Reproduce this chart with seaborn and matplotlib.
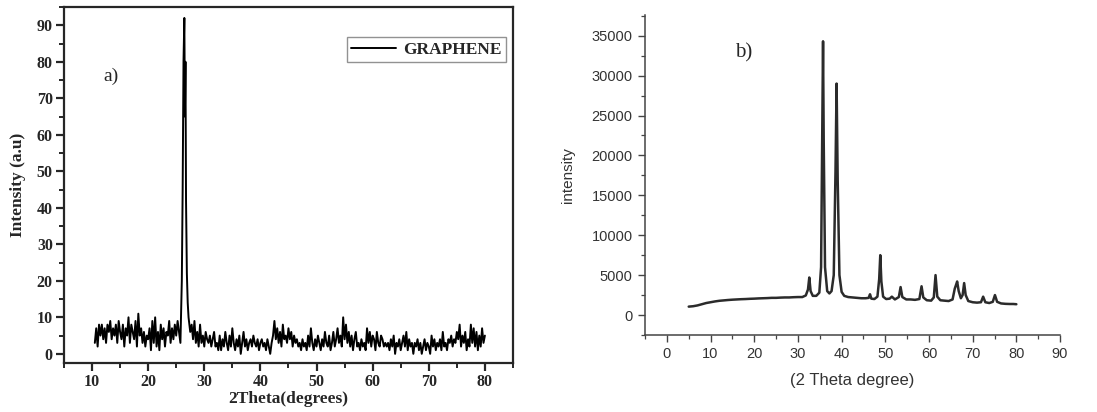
import numpy as np
import pandas as pd
import matplotlib
matplotlib.use('Agg')
import matplotlib.pyplot as plt
import seaborn as sns
from matplotlib.ticker import MultipleLocator

# a) graphene, noisy background on a 0.25 deg grid
bg_start = 10.5
bg_left = [3, 7, 2, 8, 5, 8, 4, 7, 3, 8,
           6, 9, 4, 7, 5, 8, 3, 9, 6, 4,
           8, 2, 7, 5, 10, 3, 8, 6, 4, 9,
           2, 11, 5, 7, 3, 6, 2, 5, 4, 7,
           1, 9, 3, 10, 2, 6, 1, 8, 4, 7,
           2, 6, 5, 9, 3, 7, 4, 8, 5, 9,
           6, 3]
peak_x = [26.0, 26.15, 26.3, 26.45, 26.55, 26.65, 26.75, 26.9, 27.05, 27.2, 27.35, 27.5]
peak_y = [20, 45, 80, 92, 65, 80, 42, 22, 14, 10, 8, 6]
bg_right_start = 27.75
bg_right = [8, 4, 9, 3, 6, 2, 8, 3, 5, 2, 6, 4, 3, 5, 2, 4, 6, 2, 3, 1,
            5, 1, 4, 2, 6, 3, 1, 5, 2, 7, 3, 1, 4, 2, 5, 0, 3, 6, 2, 4,
            1, 3, 4, 2, 5, 3, 2, 4, 1, 3, 4, 2, 3, 1, 4, 2, 0, 3, 5, 9,
            4, 7, 3, 6, 2, 8, 4, 5, 3, 7, 4, 6, 2, 5, 3, 4, 2, 3, 1, 4,
            2, 3, 1, 5, 2, 7, 3, 1, 4, 2, 5, 3, 1, 4, 2, 6, 3, 2, 5, 1,
            3, 6, 2, 4, 7, 3, 5, 2, 10, 4, 8, 3, 6, 2, 5, 1, 4, 6, 2, 3,
            1, 4, 2, 3, 1, 7, 3, 6, 2, 5, 4, 1, 6, 3, 2, 5, 4, 2, 3, 2,
            3, 1, 4, 2, 5, 0, 3, 2, 4, 1, 3, 5, 2, 6, 1, 4, 2, 3, 0, 3,
            2, 4, 1, 3, 0, 2, 4, 1, 3, 2, 0, 5, 2, 4, 1, 3, 2, 4, 1, 6,
            2, 3, 1, 4, 3, 5, 2, 4, 3, 6, 4, 8, 2, 5, 3, 6, 1, 4, 2, 8,
            3, 7, 2, 6, 1, 5, 2, 7, 3, 5]

# b) diffraction pattern
theta_b = [5, 6, 7, 8, 9, 10, 11, 12, 13, 14, 15, 16, 17, 18, 19, 20, 21, 22, 23, 24,
           25, 26, 27, 28, 29, 30, 31, 31.8, 32.3, 32.6, 32.9, 33.4, 34.2, 34.9, 35.3,
           35.6, 35.75, 35.9, 36.2, 36.7, 37.2, 37.7, 38.2, 38.6, 38.85, 39.1, 39.5, 40.0,
           40.6, 41.5, 42.5, 43.5, 44.5, 45.5, 46.2, 46.5, 46.8, 47.5, 48.2, 48.6, 48.85,
           49.1, 49.5, 50.2, 51, 51.5, 52.2, 53.1, 53.5, 53.9, 54.8, 55.8, 56.8, 57.8, 58.3,
           58.7, 59.5, 60.5, 61.1, 61.5, 61.9, 62.6, 63.5, 64.5, 65.4, 65.9, 66.15, 66.45,
           66.8, 67.3, 67.7, 68.05, 68.4, 69.0, 70.0, 71.0, 71.9, 72.4, 72.9, 73.8, 74.6,
           75.1, 75.6, 76.5, 77.5, 78.5, 79.3, 80]
inten_b = [1050, 1100, 1200, 1350, 1500, 1600, 1700, 1780, 1830, 1880, 1920, 1950, 1980,
           2000, 2030, 2050, 2080, 2100, 2120, 2150, 2150, 2180, 2200, 2200, 2230, 2250,
           2250, 2450, 3200, 4700, 3000, 2400, 2400, 2800, 6000, 25000, 34300, 22000, 6000,
           3000, 2700, 3000, 5000, 18000, 29000, 17000, 5000, 2900, 2400, 2250, 2200, 2150,
           2100, 2100, 2150, 2600, 2050, 2000, 2300, 4500, 7500, 4200, 2300, 2000, 2050,
           2300, 1950, 2250, 3500, 2250, 1950, 1950, 1900, 2000, 3600, 2200, 1850, 1800,
           2200, 5000, 2300, 1850, 1800, 1750, 1950, 3300, 3700, 4200, 3000, 2100, 2500,
           4000, 2500, 1750, 1600, 1550, 1600, 2300, 1600, 1500, 1650, 2500, 1650, 1450,
           1400, 1380, 1380, 1350]

df_a = pd.concat([
    pd.DataFrame({'x': bg_start + 0.25 * np.arange(len(bg_left)), 'y': bg_left}),
    pd.DataFrame({'x': peak_x, 'y': peak_y}),
    pd.DataFrame({'x': bg_right_start + 0.25 * np.arange(len(bg_right)), 'y': bg_right}),
], ignore_index=True)
df_b = pd.DataFrame({'x': theta_b, 'y': inten_b})

sns.set_style('ticks')
plt.rcParams['font.family'] = ['DejaVu Sans']

fig = plt.figure(figsize=(10.97, 4.12), dpi=100)

# ---- panel a
ax1 = fig.add_axes([0.0583, 0.119, 0.4093, 0.864])
sns.lineplot(data=df_a, x='x', y='y', ax=ax1, color='black', lw=1.4, label='GRAPHENE', sort=False)
ax1.set_xlim(5, 85)
ax1.set_ylim(-2.5, 95)
ax1.xaxis.set_major_locator(MultipleLocator(10))
ax1.xaxis.set_minor_locator(MultipleLocator(5))
ax1.yaxis.set_major_locator(MultipleLocator(10))
ax1.yaxis.set_minor_locator(MultipleLocator(5))
ax1.set_xticks(range(10, 81, 10))
for s in ax1.spines.values():
    s.set_linewidth(1.6)
    s.set_visible(True)
ax1.tick_params(which='major', length=6, width=1.6, direction='out', pad=2)
ax1.tick_params(which='minor', length=3.5, width=1.4, direction='out')
serif_b = dict(family='Liberation Serif', weight='bold')
for lab in ax1.get_xticklabels() + ax1.get_yticklabels():
    lab.set_fontfamily('Liberation Serif')
    lab.set_fontweight('bold')
    lab.set_fontsize(11.5)
ax1.set_xlabel('2Theta(degrees)', fontsize=12.5, labelpad=1, **serif_b)
ax1.set_ylabel('Intensity (a.u)', fontsize=12.5, labelpad=8, **serif_b)
ax1.text(13.3, 76, 'a)', family='Liberation Serif', fontsize=14, ha='center', va='center')
leg = ax1.legend(loc='upper right', bbox_to_anchor=(0.985, 0.915), frameon=True, fancybox=False,
                 prop={'family': 'Liberation Serif', 'weight': 'bold', 'size': 12.5},
                 handlelength=2.6, handletextpad=0.4, borderpad=0.25, borderaxespad=0)
leg.get_frame().set_edgecolor('#777777')
leg.get_frame().set_linewidth(1.0)

# ---- panel b
ax2 = fig.add_axes([0.588, 0.187, 0.3783, 0.7767])
sns.lineplot(data=df_b, x='x', y='y', ax=ax2, color='#2b2b2b', lw=1.8, sort=False)
ax2.set_xlim(-5, 90)
ax2.set_ylim(-2500, 37600)
ax2.xaxis.set_major_locator(MultipleLocator(10))
ax2.xaxis.set_minor_locator(MultipleLocator(5))
ax2.yaxis.set_major_locator(MultipleLocator(5000))
ax2.yaxis.set_minor_locator(MultipleLocator(2500))
ax2.set_xticks(range(0, 91, 10))
ax2.set_yticks(range(0, 35001, 5000))
sns.despine(ax=ax2)
for s in ('left', 'bottom'):
    ax2.spines[s].set_linewidth(1.1)
    ax2.spines[s].set_color('#444444')
ax2.tick_params(which='major', length=5, width=1.0, direction='out', color='#444444',
                labelsize=10.5, labelcolor='#333333', pad=4)
ax2.tick_params(which='minor', length=3, width=0.9, direction='out', color='#444444')
for lab in ax2.get_xticklabels() + ax2.get_yticklabels():
    lab.set_fontfamily('Liberation Sans')
ax2.set_xlabel('(2 Theta degree)', family='Liberation Sans', fontsize=12, color='#333333', labelpad=8)
ax2.set_ylabel('intensity', family='Liberation Sans', fontsize=11, color='#333333', labelpad=12)
ax2.text(17.5, 32800, 'b)', family='Liberation Serif', fontsize=15, ha='center', va='center')

fig.savefig('out.png', dpi=100)
